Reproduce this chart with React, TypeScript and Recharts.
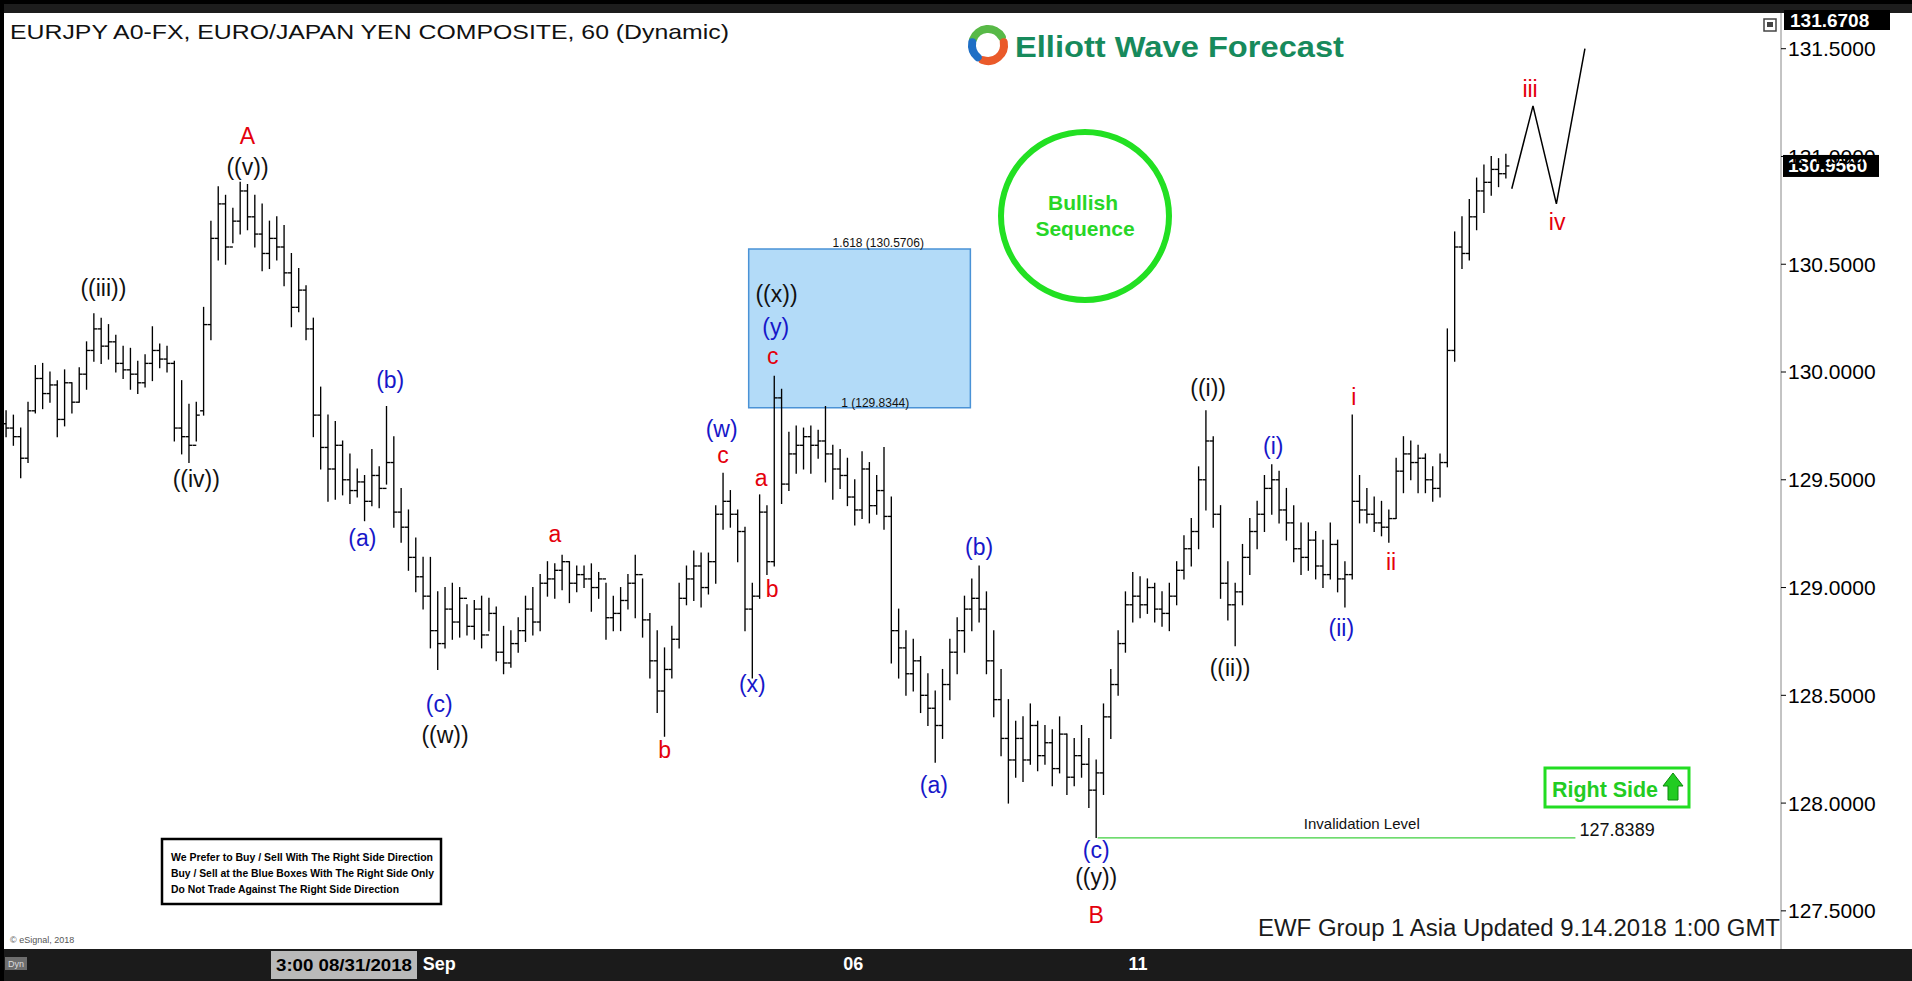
import React from 'react';
import {
  Bar,
  ComposedChart,
  Line,
  ReferenceArea,
  ReferenceLine,
  Scatter,
  XAxis,
  YAxis,
} from 'recharts';

const W = 1912;
const H = 981;
const FONT = '"Liberation Sans", Arial, Helvetica, sans-serif';

// EURJPY hourly bars, end of Aug -> 14 Sep 2018
const opens = [
  129.76, 129.74, 129.70, 129.60, 129.82, 129.97, 129.90, 129.94, 129.78, 129.95,
  129.86, 129.99, 130.10, 130.20, 130.12, 130.14, 130.04, 130.01, 129.99, 129.95,
  130.04, 130.10, 130.06, 130.04, 129.74, 129.70, 129.66, 129.82, 130.22, 130.62,
  130.78, 130.58, 130.70, 130.84, 130.72, 130.64, 130.55, 130.62, 130.58, 130.46,
  130.30, 130.38, 130.20, 129.80, 129.65, 129.55, 129.66, 129.50, 129.45, 129.49,
  129.40, 129.52, 129.46, 129.58, 129.35, 129.28, 129.14, 129.05, 128.96, 128.80,
  128.74, 128.90, 128.84, 128.95, 128.82, 128.90, 128.78, 128.88, 128.70, 128.65,
  128.74, 128.80, 128.90, 128.84, 129.02, 129.04, 129.08, 129.12, 129.02, 129.06,
  129.04, 129.00, 129.04, 128.86, 128.88, 128.94, 129.02, 129.06, 128.85, 128.66,
  128.52, 128.62, 128.76, 128.95, 129.04, 129.10, 129.00, 129.12, 129.34, 129.40,
  129.34, 129.26, 128.90, 128.96, 129.35, 129.12, 129.88, 129.48, 129.62, 129.66,
  129.70, 129.66, 129.68, 129.62, 129.55, 129.52, 129.42, 129.36, 129.55, 129.38,
  129.45, 129.33, 128.80, 128.72, 128.60, 128.66, 128.50, 128.44, 128.36, 128.55,
  128.70, 128.80, 128.90, 128.95, 128.90, 128.66, 128.48, 128.30, 128.20, 128.30,
  128.20, 128.36, 128.22, 128.28, 128.16, 128.32, 128.12, 128.22, 128.18, 128.06,
  128.14, 128.40, 128.55, 128.74, 128.92, 128.96, 128.92, 129.00, 128.90, 128.88,
  128.96, 129.08, 129.18, 129.26, 129.50, 129.68, 129.34, 129.02, 128.92, 128.98,
  129.14, 129.26, 129.34, 129.46, 129.50, 129.36, 129.30, 129.18, 129.14, 129.22,
  129.10, 129.06, 129.20, 129.04, 129.06, 129.40, 129.36, 129.34, 129.30, 129.28,
  129.32, 129.54, 129.62, 129.58, 129.60, 129.50, 129.46, 129.58, 130.10, 130.58,
  130.55, 130.72, 130.84, 130.88, 130.94, 130.92,
];
const highs = [
  129.82, 129.80, 129.74, 129.86, 130.03, 130.04, 130.00, 129.96, 130.01, 129.95,
  130.02, 130.14, 130.27, 130.25, 130.22, 130.17, 130.12, 130.11, 130.05, 130.08,
  130.21, 130.13, 130.12, 130.05, 129.96, 129.85, 129.86, 130.30, 130.70, 130.86,
  130.82, 130.76, 130.88, 130.87, 130.82, 130.78, 130.70, 130.72, 130.68, 130.55,
  130.48, 130.40, 130.25, 129.93, 129.80, 129.77, 129.68, 129.62, 129.55, 129.52,
  129.64, 129.56, 129.84, 129.70, 129.46, 129.36, 129.23, 129.14, 129.14, 128.98,
  129.00, 129.02, 129.00, 128.92, 128.94, 128.96, 128.95, 128.91, 128.82, 128.80,
  128.86, 128.96, 129.00, 129.06, 129.12, 129.11, 129.15, 129.12, 129.10, 129.10,
  129.11, 129.07, 129.02, 128.96, 129.00, 129.06, 129.15, 129.04, 128.88, 128.80,
  128.72, 128.82, 129.02, 129.10, 129.17, 129.16, 129.16, 129.38, 129.53, 129.45,
  129.36, 129.28, 129.02, 129.43, 129.38, 129.98, 129.92, 129.72, 129.75, 129.74,
  129.75, 129.73, 129.84, 129.66, 129.64, 129.60, 129.50, 129.63, 129.58, 129.52,
  129.65, 129.42, 128.90, 128.80, 128.76, 128.68, 128.60, 128.52, 128.62, 128.76,
  128.86, 128.96, 129.04, 129.10, 128.98, 128.80, 128.62, 128.48, 128.38, 128.40,
  128.46, 128.38, 128.36, 128.34, 128.40, 128.32, 128.30, 128.36, 128.30, 128.20,
  128.46, 128.62, 128.80, 128.98, 129.07, 129.05, 129.04, 129.02, 128.98, 129.02,
  129.12, 129.24, 129.32, 129.56, 129.82, 129.70, 129.38, 129.12, 129.02, 129.20,
  129.32, 129.40, 129.52, 129.57, 129.54, 129.46, 129.38, 129.30, 129.30, 129.26,
  129.22, 129.30, 129.22, 129.12, 129.80, 129.52, 129.46, 129.42, 129.40, 129.36,
  129.60, 129.70, 129.68, 129.66, 129.62, 129.56, 129.62, 130.20, 130.65, 130.72,
  130.80, 130.90, 130.96, 131.00, 130.99, 131.01,
];
const lows = [
  129.70, 129.66, 129.51, 129.58, 129.81, 129.83, 129.86, 129.70, 129.75, 129.81,
  129.86, 129.92, 130.05, 130.04, 130.06, 130.00, 129.97, 129.92, 129.90, 129.93,
  129.96, 130.02, 130.00, 129.68, 129.62, 129.58, 129.68, 129.80, 130.15, 130.52,
  130.50, 130.60, 130.64, 130.66, 130.58, 130.47, 130.48, 130.52, 130.40, 130.21,
  130.28, 130.15, 129.70, 129.55, 129.40, 129.41, 129.43, 129.39, 129.42, 129.31,
  129.38, 129.37, 129.48, 129.28, 129.21, 129.08, 128.98, 128.90, 128.72, 128.62,
  128.72, 128.76, 128.77, 128.78, 128.76, 128.72, 128.80, 128.66, 128.60, 128.63,
  128.70, 128.75, 128.78, 128.80, 128.96, 128.95, 128.99, 128.93, 128.98, 129.00,
  128.89, 128.95, 128.76, 128.80, 128.80, 128.90, 128.86, 128.77, 128.58, 128.42,
  128.31, 128.58, 128.72, 128.92, 128.94, 128.91, 128.97, 129.02, 129.27, 129.28,
  129.12, 128.80, 128.58, 128.95, 129.06, 129.10, 129.39, 129.45, 129.53, 129.55,
  129.53, 129.60, 129.49, 129.41, 129.46, 129.38, 129.29, 129.32, 129.30, 129.34,
  129.27, 128.65, 128.58, 128.50, 128.52, 128.42, 128.36, 128.19, 128.30, 128.48,
  128.60, 128.70, 128.80, 128.84, 128.60, 128.40, 128.22, 128.00, 128.12, 128.10,
  128.18, 128.15, 128.18, 128.08, 128.14, 128.04, 128.08, 128.12, 127.98, 127.84,
  128.04, 128.30, 128.50, 128.70, 128.84, 128.86, 128.88, 128.84, 128.82, 128.80,
  128.92, 129.04, 129.10, 129.18, 129.36, 129.28, 128.95, 128.85, 128.73, 128.92,
  129.06, 129.18, 129.26, 129.34, 129.30, 129.22, 129.12, 129.06, 129.08, 129.04,
  129.00, 129.04, 128.98, 128.91, 129.04, 129.30, 129.30, 129.26, 129.24, 129.21,
  129.32, 129.44, 129.50, 129.44, 129.44, 129.40, 129.42, 129.56, 130.05, 130.48,
  130.52, 130.66, 130.74, 130.82, 130.86, 130.90,
];
const closes = [
  129.74, 129.70, 129.60, 129.82, 129.97, 129.90, 129.94, 129.78, 129.95, 129.86,
  129.99, 130.10, 130.20, 130.12, 130.14, 130.04, 130.01, 129.99, 129.95, 130.04,
  130.10, 130.06, 130.04, 129.74, 129.70, 129.66, 129.80, 130.22, 130.62, 130.78,
  130.58, 130.70, 130.84, 130.72, 130.64, 130.55, 130.62, 130.58, 130.46, 130.30,
  130.38, 130.20, 129.80, 129.65, 129.55, 129.66, 129.50, 129.45, 129.49, 129.40,
  129.52, 129.46, 129.58, 129.35, 129.28, 129.14, 129.05, 128.96, 128.80, 128.74,
  128.90, 128.84, 128.95, 128.82, 128.90, 128.78, 128.88, 128.70, 128.65, 128.74,
  128.80, 128.90, 128.84, 129.02, 129.04, 129.08, 129.12, 129.02, 129.06, 129.04,
  129.00, 129.04, 128.86, 128.88, 128.94, 129.02, 129.06, 128.85, 128.66, 128.52,
  128.62, 128.76, 128.95, 129.04, 129.10, 129.00, 129.12, 129.34, 129.40, 129.34,
  129.26, 128.90, 128.96, 129.35, 129.12, 129.88, 129.48, 129.62, 129.66, 129.70,
  129.66, 129.68, 129.62, 129.55, 129.52, 129.42, 129.36, 129.55, 129.38, 129.45,
  129.33, 128.80, 128.72, 128.60, 128.66, 128.50, 128.44, 128.36, 128.55, 128.70,
  128.80, 128.90, 128.95, 128.90, 128.66, 128.48, 128.30, 128.20, 128.30, 128.20,
  128.36, 128.22, 128.28, 128.16, 128.32, 128.12, 128.22, 128.18, 128.06, 128.14,
  128.40, 128.55, 128.74, 128.92, 128.96, 128.92, 129.00, 128.90, 128.88, 128.96,
  129.08, 129.18, 129.26, 129.50, 129.68, 129.34, 129.02, 128.92, 128.98, 129.14,
  129.26, 129.34, 129.46, 129.50, 129.36, 129.30, 129.18, 129.14, 129.22, 129.10,
  129.06, 129.20, 129.04, 129.06, 129.40, 129.36, 129.34, 129.30, 129.28, 129.32,
  129.54, 129.62, 129.58, 129.60, 129.50, 129.46, 129.58, 130.10, 130.58, 130.55,
  130.72, 130.84, 130.88, 130.94, 130.92, 130.956,
];

// time axis (bar index -> label)
const timeTicks = [59.2, 115.8, 154.7];
const timeLabels = ['Sep', '06', '11'];

const priceTicks = [127.5, 128, 128.5, 129, 129.5, 130, 130.5, 131, 131.5];
const priceDomain = [127.323, 131.726];
const barDomain = [-0.834, 242.6];

// projected path iii - iv - v
const projX = [205.8, 208.7, 211.9, 215.8];
const projY = [130.85, 131.235, 130.78, 131.5];

// blue box 1 - 1.618 extension
const boxX = [101.5, 131.8];
const boxY = [129.8344, 130.5706];

const invalidation = 127.8389;
const invalidX = [149.2, 214.5];
const lastPrice = 130.956;

const RED = '#e4000c';
const BLUE = '#1717c9';
const BLACK = '#111111';

const waveLabels = [
  { t: 'A', x: 33.0, y: 131.093, c: RED },
  { t: '((v))', x: 33.0, y: 130.951, c: BLACK },
  { t: '((iii))', x: 13.3, y: 130.391, c: BLACK },
  { t: '((iv))', x: 26.0, y: 129.503, c: BLACK },
  { t: '(b)', x: 52.5, y: 129.961, c: BLUE },
  { t: '(a)', x: 48.7, y: 129.231, c: BLUE },
  { t: '(c)', x: 59.2, y: 128.462, c: BLUE },
  { t: '((w))', x: 60.0, y: 128.315, c: BLACK },
  { t: 'a', x: 75.0, y: 129.248, c: RED },
  { t: 'b', x: 90.0, y: 128.247, c: RED },
  { t: '(w)', x: 97.8, y: 129.735, c: BLUE },
  { t: 'c', x: 98.0, y: 129.616, c: RED },
  { t: 'a', x: 103.2, y: 129.508, c: RED },
  { t: 'b', x: 104.7, y: 128.994, c: RED },
  { t: '(x)', x: 102.0, y: 128.553, c: BLUE },
  { t: '((x))', x: 105.3, y: 130.363, c: BLACK },
  { t: '(y)', x: 105.2, y: 130.21, c: BLUE },
  { t: 'c', x: 104.8, y: 130.074, c: RED },
  { t: '(a)', x: 126.8, y: 128.083, c: BLUE },
  { t: '(b)', x: 133.0, y: 129.186, c: BLUE },
  { t: '(c)', x: 149.0, y: 127.783, c: BLUE },
  { t: '((y))', x: 149.0, y: 127.658, c: BLACK },
  { t: 'B', x: 149.0, y: 127.483, c: RED },
  { t: '((i))', x: 164.3, y: 129.927, c: BLACK },
  { t: '((ii))', x: 167.3, y: 128.626, c: BLACK },
  { t: '(i)', x: 173.2, y: 129.656, c: BLUE },
  { t: '(ii)', x: 182.5, y: 128.813, c: BLUE },
  { t: 'i', x: 184.2, y: 129.882, c: RED },
  { t: 'ii', x: 189.3, y: 129.118, c: RED },
  { t: 'iii', x: 208.3, y: 131.313, c: RED },
  { t: 'iv', x: 212.0, y: 130.697, c: RED },
  { t: '1.618 (130.5706)', x: 119.2, y: 130.6, c: BLACK, s: 12 },
  { t: '1 (129.8344)', x: 118.8, y: 129.856, c: BLACK, s: 12 },
  { t: 'Invalidation Level', x: 185.3, y: 127.907, c: BLACK, s: 15 },
  { t: '127.8389', x: 220.2, y: 127.875, c: BLACK, s: 18 },
];

const bars = opens.map((o, i) => ({
  x: i,
  range: [lows[i], highs[i]],
  o,
  h: highs[i],
  l: lows[i],
  c: closes[i],
}));
const projection = projX.map((x, i) => ({ x, y: projY[i] }));

function OhlcShape(props: any) {
  const { x, y, width, height, payload } = props;
  if (x == null || y == null || !payload) return null;
  const cx = x + width / 2;
  const top = Math.min(y, y + height);
  const bot = Math.max(y, y + height);
  const span = payload.h - payload.l || 1;
  const py = (p: number) => top + ((payload.h - p) / span) * (bot - top);
  return (
    <g stroke="#000" strokeWidth={1.35}>
      <line x1={cx} x2={cx} y1={top - 0.5} y2={bot + 0.5} />
      <line x1={cx - 3.5} x2={cx} y1={py(payload.o)} y2={py(payload.o)} />
      <line x1={cx} x2={cx + 3.5} y1={py(payload.c)} y2={py(payload.c)} />
    </g>
  );
}

function WaveText(props: any) {
  const { cx, cy, payload } = props;
  if (cx == null || cy == null || !payload) return null;
  return (
    <text
      x={cx}
      y={cy}
      textAnchor="middle"
      dominantBaseline="central"
      fill={payload.c}
      fontSize={payload.s ?? 23}
      fontFamily={FONT}
    >
      {payload.t}
    </text>
  );
}

function TimeTick(props: any) {
  const { x, y, payload } = props;
  const i = timeTicks.indexOf(payload.value);
  return (
    <text x={x} y={y + 7} textAnchor="middle" dominantBaseline="central" fill="#fff" fontSize={18} fontWeight="bold" fontFamily={FONT}>
      {timeLabels[i] ?? ''}
    </text>
  );
}

function LastTag(props: any) {
  const vb = props.viewBox || {};
  const left = (vb.x ?? 0) + (vb.width ?? 0) + 2;
  const cy = vb.y ?? 0;
  return (
    <g>
      <rect x={left} y={cy - 11} width={96} height={22} fill="#000" />
      <text x={left + 5} y={cy} dominantBaseline="central" fill="#fff" fontSize={19} fontWeight="bold" fontFamily={FONT}>
        {lastPrice.toFixed(4)}
      </text>
    </g>
  );
}

function arc(cx: number, cy: number, r: number, a1: number, a2: number) {
  const r1 = (a1 * Math.PI) / 180;
  const r2 = (a2 * Math.PI) / 180;
  return `M ${cx + r * Math.cos(r1)} ${cy + r * Math.sin(r1)} A ${r} ${r} 0 0 1 ${cx + r * Math.cos(r2)} ${cy + r * Math.sin(r2)}`;
}

function Overlay() {
  return (
    <svg width={W} height={H} style={{ position: 'absolute', left: 0, top: 0, pointerEvents: 'none' }} fontFamily={FONT}>
      <rect x={0} y={0} width={W} height={13} fill="#1d1d1d" />
      <rect x={0} y={0} width={W} height={4} fill="#000" />
      <rect x={0} y={0} width={4} height={H} fill="#000" />

      <text x={10} y={31} dominantBaseline="central" fontSize={21} fill="#111" textLength={719} lengthAdjust="spacingAndGlyphs">
        EURJPY A0-FX, EURO/JAPAN YEN COMPOSITE, 60 (Dynamic)
      </text>

      {/* logo */}
      <path d={arc(988, 45, 16, -160, -30)} stroke="#58b947" strokeWidth={8} fill="none" strokeLinecap="round" />
      <path d={arc(988, 45, 16, -10, 110)} stroke="#ea5a2a" strokeWidth={8} fill="none" strokeLinecap="round" />
      <path d={arc(988, 45, 16, 130, 190)} stroke="#1f6fc5" strokeWidth={8} fill="none" strokeLinecap="round" />
      <text x={1015} y={46} dominantBaseline="central" fontSize={30} fontWeight="bold" fill="#178a5c" textLength={329} lengthAdjust="spacingAndGlyphs">
        Elliott Wave Forecast
      </text>

      {/* top price tag and window icon */}
      <rect x={1784} y={10} width={106} height={20} fill="#000" />
      <text x={1790} y={20} dominantBaseline="central" fill="#fff" fontSize={19} fontWeight="bold">131.6708</text>
      <rect x={1764} y={19} width={12} height={12} fill="#fff" stroke="#444" strokeWidth={1.5} />
      <rect x={1767} y={22} width={6} height={5} fill="#444" />

      {/* bullish sequence */}
      <circle cx={1085} cy={216} r={84} fill="none" stroke="#22e022" strokeWidth={6} />
      <text x={1083} y={202} textAnchor="middle" dominantBaseline="central" fontSize={21} fontWeight="bold" fill="#27d627">Bullish</text>
      <text x={1085} y={228} textAnchor="middle" dominantBaseline="central" fontSize={21} fontWeight="bold" fill="#27d627">Sequence</text>

      {/* right side */}
      <rect x={1545} y={768} width={144} height={39} fill="#fff" stroke="#22dd22" strokeWidth={3} />
      <text x={1552} y={789} dominantBaseline="central" fontSize={22} fontWeight="bold" fill="#22cc22" textLength={106} lengthAdjust="spacingAndGlyphs">Right Side</text>
      <polygon points="1673,773 1683,786 1678,786 1678,800 1668,800 1668,786 1663,786" fill="#22cc22" stroke="#0a8a0a" strokeWidth={1} />

      {/* rule box */}
      <rect x={162} y={839} width={279} height={65} fill="#fff" stroke="#000" strokeWidth={2.5} />
      <text x={171} y={857} dominantBaseline="central" fontSize={11} fontWeight="bold" fill="#000" textLength={262} lengthAdjust="spacingAndGlyphs">We Prefer to Buy / Sell With The Right Side Direction</text>
      <text x={171} y={873} dominantBaseline="central" fontSize={11} fontWeight="bold" fill="#000" textLength={263} lengthAdjust="spacingAndGlyphs">Buy / Sell at the Blue Boxes With The Right Side Only</text>
      <text x={171} y={889} dominantBaseline="central" fontSize={11} fontWeight="bold" fill="#000" textLength={228} lengthAdjust="spacingAndGlyphs">Do Not Trade Against The Right Side Direction</text>

      <text x={1258} y={928} dominantBaseline="central" fontSize={23} fill="#1a1a1a" textLength={522} lengthAdjust="spacingAndGlyphs">
        EWF Group 1 Asia Updated 9.14.2018 1:00 GMT
      </text>
      <text x={10} y={940} dominantBaseline="central" fontSize={9} fill="#555">© eSignal, 2018</text>

      {/* time axis extras */}
      <rect x={271} y={951} width={146} height={28} fill="#b9b9b9" />
      <text x={344} y={965} textAnchor="middle" dominantBaseline="central" fontSize={17} fontWeight="bold" fill="#000" textLength={136} lengthAdjust="spacingAndGlyphs">3:00 08/31/2018</text>
      <rect x={5} y={957} width={22} height={13} fill="#6e6e6e" />
      <text x={16} y={964} textAnchor="middle" dominantBaseline="central" fontSize={9} fill="#ddd">Dyn</text>
    </svg>
  );
}

export default function App() {
  return (
    <div style={{ position: 'relative', width: W, height: H, background: '#fff', overflow: 'hidden', fontFamily: FONT }}>
      <style>{'body{margin:0}'}</style>
      <div style={{ position: 'absolute', left: 0, top: 949, width: W, height: 32, background: '#1b1b1b' }} />
      <ComposedChart
        width={W}
        height={H}
        data={bars}
        margin={{ top: 0, right: 0, bottom: 0, left: 0 }}
        style={{ position: 'absolute', left: 0, top: 0 }}
      >
        <XAxis
          type="number"
          dataKey="x"
          domain={barDomain}
          allowDataOverflow
          ticks={timeTicks}
          interval={0}
          height={32}
          axisLine={false}
          tickLine={false}
          tick={<TimeTick />}
        />
        <YAxis
          orientation="right"
          width={131}
          domain={priceDomain}
          allowDataOverflow
          ticks={priceTicks}
          interval={0}
          tickFormatter={(v: number) => v.toFixed(4)}
          tick={{ fontSize: 21, fill: '#000', fontFamily: FONT }}
          tickLine={{ stroke: '#000' }}
          tickSize={5}
          axisLine={{ stroke: '#888' }}
        />
        <ReferenceArea
          x1={boxX[0]}
          x2={boxX[1]}
          y1={boxY[0]}
          y2={boxY[1]}
          fill="#b3dbf8"
          fillOpacity={1}
          stroke="#4a92d6"
          strokeWidth={1.5}
        />
        <Bar dataKey="range" barSize={6} shape={OhlcShape} isAnimationActive={false} />
        <Line
          data={projection}
          dataKey="y"
          type="linear"
          stroke="#000"
          strokeWidth={1.5}
          dot={false}
          activeDot={false}
          isAnimationActive={false}
        />
        <ReferenceLine
          segment={[
            { x: invalidX[0], y: invalidation },
            { x: invalidX[1], y: invalidation },
          ]}
          stroke="#3fcf3f"
          strokeWidth={1.3}
        />
        <ReferenceLine y={lastPrice} stroke="none" label={(p: any) => <LastTag {...p} />} />
        <Scatter data={waveLabels} dataKey="y" shape={WaveText} isAnimationActive={false} />
      </ComposedChart>
      <Overlay />
    </div>
  );
}
